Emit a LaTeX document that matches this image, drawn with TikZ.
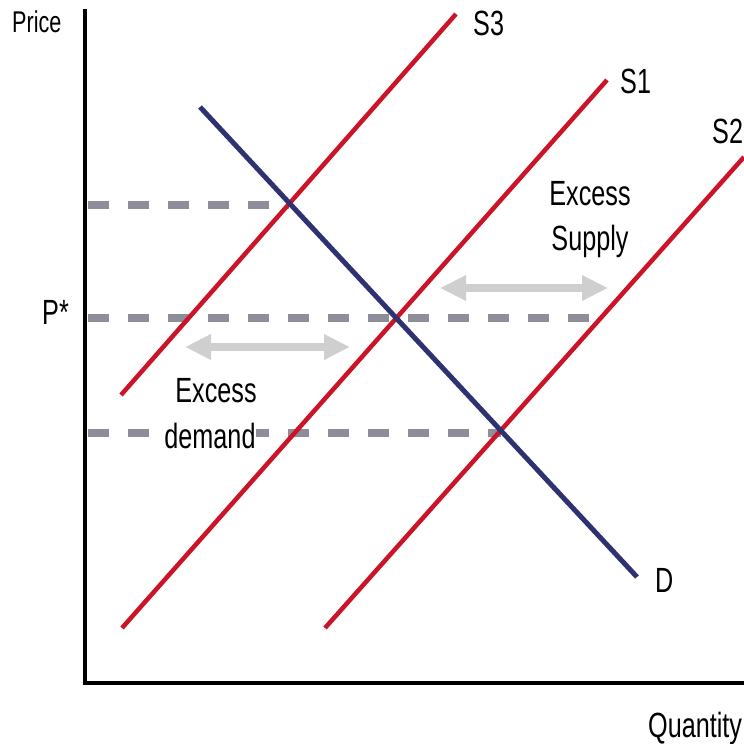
\documentclass[tikz,border=0pt]{standalone}
\usepackage{fontspec}
\usepackage{tikz}
\usetikzlibrary{arrows.meta}
\newfontfamily\chartfont[FakeStretch=0.72]{Liberation Sans}
\definecolor{supplyred}{HTML}{CC1428}
\definecolor{demandblue}{HTML}{2E3270}
\definecolor{guidegray}{HTML}{8E8E9A}
\definecolor{gapgray}{HTML}{CFCFCF}
\tikzset{
  axisline/.style = {line width=4pt, black},
  supplyline/.style = {line width=4.5pt, supplyred},
  demandline/.style = {line width=5pt, demandblue},
  guide/.style = {line width=8pt, guidegray, dash pattern=on 21pt off 19pt, dash phase=-3pt},
  gaparr/.style = {line width=8pt, gapgray,
                   {Triangle[length=26pt,width=24pt]}-{Triangle[length=26pt,width=24pt]}},
  lbl/.style = {font=\chartfont\fontsize{35}{38}\selectfont, inner sep=0pt, anchor=base west},
  ctr/.style = {lbl, anchor=base},
}
\begin{document}
\begin{tikzpicture}[x=1pt, y=-1pt]
  \useasboundingbox (0,0) rectangle (744,744);

  % axes
  \coordinate (origin) at (85,683);
  \coordinate (ytop) at (85,9);
  \coordinate (xend) at (744,683);
  \draw[axisline] (ytop) -- (origin) -- (xend);

  % guide lines for the prices
  \coordinate (ph) at (85,205);   \coordinate (phx) at (289,205);
  \coordinate (pstar) at (85,318); \coordinate (pstarx) at (600,318);
  \coordinate (pl) at (85,433);   \coordinate (plx) at (501,433);
  \draw[guide] (ph) -- (phx);
  \draw[guide] (pstar) -- (pstarx);
  \draw[guide] (pl) -- (plx);

  % supply curves
  \coordinate (s3a) at (121,395); \coordinate (s3b) at (456,14);
  \coordinate (s1a) at (122,628); \coordinate (s1b) at (607,80);
  \coordinate (s2a) at (325,628); \coordinate (s2b) at (744,157);
  \draw[supplyline] (s3a) -- (s3b);
  \draw[supplyline] (s1a) -- (s1b);
  \draw[supplyline] (s2a) -- (s2b);

  % demand curve
  \coordinate (da) at (200,107); \coordinate (db) at (637,577);
  \draw[demandline] (da) -- (db);

  % shortage and surplus
  \coordinate (supl) at (440,288); \coordinate (supr) at (608,288);
  \coordinate (deml) at (185,347); \coordinate (demr) at (350,347);
  \draw[gaparr] (supl) -- (supr);
  \draw[gaparr] (deml) -- (demr);

  % labels
  \node[lbl, font=\chartfont\fontsize{30}{32}\selectfont] (price) at (12,32) {Price};
  \node[lbl] (qty) at (648,737) {Quantity};
  \node[lbl] (pstarlbl) at (42,324) {P*};
  \node[lbl] (s3lbl) at (473,35) {S3};
  \node[lbl] (s1lbl) at (620,93) {S1};
  \node[lbl] (s2lbl) at (712,143) {S2};
  \node[lbl] (dlbl) at (655,592) {D};
  \node[ctr] (exs1) at (590,205) {Excess};
  \node[ctr] (exs2) at (590,250) {Supply};
  \node[ctr] (exd1) at (216,402) {Excess};
  \node[ctr, fill=white] (exd2) at (210,448) {demand};
\end{tikzpicture}
\end{document}
